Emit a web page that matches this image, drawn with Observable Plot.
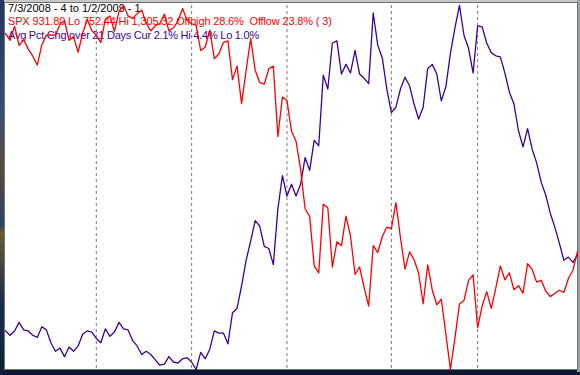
<!DOCTYPE html>
<html>
<head>
<meta charset="utf-8">
<script src="https://cdn.jsdelivr.net/npm/d3@7"></script>
<script src="https://cdn.jsdelivr.net/npm/@observablehq/plot@0.6"></script>
<style>
  html, body { margin: 0; padding: 0; background: #0c1834; }
  #wrap { position: relative; width: 580px; height: 375px; overflow: hidden; background: #0c1834; }
  #desk { position: absolute; left: 0; top: 0; width: 4px; height: 375px;
          background: linear-gradient(#23365c, #3a4f72 30%, #5b4a3a 45%, #2c4166 60%, #6a5a30 62%, #1d2c4c 80%, #10203c); }
  #topbar { position: absolute; left: 4px; top: 0; width: 576px; height: 2px; background: #c8c8c8; }
  #box { position: absolute; left: 4px; top: 2px; width: 572px; height: 366px; background: #fff;
         border: 1px solid #707070; }
  #rightbar { position: absolute; left: 577px; top: 0; width: 3px; height: 372px; background: #9aa0a8; }
  .lbl { position: absolute; left: 8px; font-family: "Liberation Sans", Arial, sans-serif; font-size: 11px;
         line-height: 11px; white-space: pre; }
  svg.layer { position: absolute; left: 0; top: 0; }
</style>
</head>
<body>
<div id="wrap">
  <div id="desk"></div>
  <div id="topbar"></div>
  <div id="rightbar"></div>
  <div id="box"></div>
</div>
<script>
// Trading days shown (7/3/2008 .. 1/2/2009)
const dates = [
 "7/3/2008","7/7/2008","7/8/2008","7/9/2008","7/10/2008","7/11/2008","7/14/2008","7/15/2008","7/16/2008","7/17/2008",
 "7/18/2008","7/21/2008","7/22/2008","7/23/2008","7/24/2008","7/25/2008","7/28/2008","7/29/2008","7/30/2008","7/31/2008",
 "8/1/2008","8/4/2008","8/5/2008","8/6/2008","8/7/2008","8/8/2008","8/11/2008","8/12/2008","8/13/2008","8/14/2008",
 "8/15/2008","8/18/2008","8/19/2008","8/20/2008","8/21/2008","8/22/2008","8/25/2008","8/26/2008","8/27/2008","8/28/2008","8/29/2008",
 "9/2/2008","9/3/2008","9/4/2008","9/5/2008","9/8/2008","9/9/2008","9/10/2008","9/11/2008","9/12/2008","9/15/2008",
 "9/16/2008","9/17/2008","9/18/2008","9/19/2008","9/22/2008","9/23/2008","9/24/2008","9/25/2008","9/26/2008","9/29/2008","9/30/2008",
 "10/1/2008","10/2/2008","10/3/2008","10/6/2008","10/7/2008","10/8/2008","10/9/2008","10/10/2008","10/13/2008","10/14/2008",
 "10/15/2008","10/16/2008","10/17/2008","10/20/2008","10/21/2008","10/22/2008","10/23/2008","10/24/2008","10/27/2008","10/28/2008",
 "10/29/2008","10/30/2008","10/31/2008",
 "11/3/2008","11/4/2008","11/5/2008","11/6/2008","11/7/2008","11/10/2008","11/11/2008","11/12/2008","11/13/2008","11/14/2008",
 "11/17/2008","11/18/2008","11/19/2008","11/20/2008","11/21/2008","11/24/2008","11/25/2008","11/26/2008","11/28/2008",
 "12/1/2008","12/2/2008","12/3/2008","12/4/2008","12/5/2008","12/8/2008","12/9/2008","12/10/2008","12/11/2008","12/12/2008",
 "12/15/2008","12/16/2008","12/17/2008","12/18/2008","12/19/2008","12/22/2008","12/23/2008","12/24/2008","12/26/2008","12/29/2008",
 "12/30/2008","12/31/2008","1/2/2009"
];

// SPX close (red)
const spx = [
 1262.90,1252.31,1273.70,1244.69,1253.39,1239.49,1228.30,1214.91,1245.36,1260.32,
 1260.68,1260.00,1277.00,1282.19,1252.54,1257.76,1234.37,1263.20,1284.26,1267.38,
 1260.31,1249.01,1284.88,1289.19,1266.07,1296.32,1305.32,1289.59,1285.83,1292.93,
 1298.20,1278.60,1266.69,1274.54,1277.72,1292.20,1266.84,1271.51,1281.66,1300.68,1282.83,
 1277.58,1274.98,1236.83,1242.31,1267.79,1224.51,1232.04,1249.05,1251.70,1192.70,
 1213.60,1156.39,1206.51,1255.08,1207.09,1188.22,1185.87,1209.18,1213.27,1106.42,1166.36,
 1161.06,1114.28,1099.23,1056.89,996.23,984.94,909.92,899.22,1003.35,998.01,
 907.84,946.43,940.55,985.40,955.05,896.78,908.11,876.77,848.92,940.51,
 930.09,954.09,968.75,
 966.30,1005.75,952.77,904.88,930.99,919.21,898.95,852.30,911.29,873.29,
 850.75,859.12,806.58,752.44,800.03,851.81,857.39,887.68,896.24,
 816.21,848.81,870.74,845.22,876.07,909.70,888.67,899.24,873.59,879.73,
 868.57,913.18,904.42,885.28,887.88,871.63,863.16,868.15,872.80,869.42,
 890.64,903.25,931.80
];

// Avg Pct Chg over 21 Days, % (purple)
const avgPct = [
 1.36,1.32,1.36,1.44,1.37,1.36,1.32,1.30,1.40,1.37,
 1.25,1.17,1.20,1.12,1.21,1.17,1.22,1.33,1.36,1.35,
 1.29,1.25,1.38,1.31,1.35,1.44,1.38,1.37,1.27,1.22,
 1.14,1.17,1.14,1.09,1.04,1.05,1.12,1.07,1.06,1.10,1.11,
 1.07,1.00,1.16,1.10,1.19,1.36,1.34,1.34,1.24,1.53,
 1.57,1.78,2.02,2.20,2.39,2.34,2.15,2.13,1.98,2.50,2.81,
 2.62,2.73,2.62,2.73,2.98,2.86,3.14,3.09,3.75,3.62,
 4.05,4.07,3.76,3.85,3.77,3.98,3.76,3.72,3.67,4.33,
 4.03,3.91,3.62,
 3.40,3.45,3.62,3.73,3.65,3.48,3.34,3.45,3.81,3.85,
 3.76,3.51,3.64,3.95,4.19,4.40,4.12,4.00,3.77,
 4.21,4.20,4.05,3.96,3.93,3.92,3.77,3.59,3.48,3.23,
 3.08,3.25,3.06,2.93,2.75,2.63,2.46,2.33,2.18,2.02,
 2.05,2.00,2.07
];

// First trading day of each month (dashed dividers)
const monthStarts = ["8/1/2008","9/2/2008","10/1/2008","11/3/2008","12/1/2008"];

const titleLines = [
  {text: "7/3/2008 - 4 to 1/2/2009 - 1", color: "#000000"},
  {text: "SPX 931.80 Lo 752.44 Hi 1,305.32 Offhigh 28.6%  Offlow 23.8% ( 3)", color: "#ff0000"},
  {text: "Avg Pct Chg over 21 Days Cur 2.1% Hi 4.4% Lo 1.0%", color: "#3c0096"}
];

const rows = dates.map((d, i) => ({i, date: d, spx: spx[i], avg: avgPct[i]}));
const monthIdx = monthStarts.map(d => dates.indexOf(d));

const W = 580, H = 375;
const common = {
  width: W, height: H,
  marginLeft: 5, marginRight: 3, marginTop: 5, marginBottom: 6,
  x: {domain: [0, dates.length - 1], axis: null},
  style: {background: "transparent", overflow: "visible"}
};

const wrap = document.getElementById("wrap");

// labels (drawn under the lines)
const tops = [2.6, 16.2, 29.6];
const spacing = [0, -0.15, -0.24];
titleLines.forEach((l, k) => {
  const el = document.createElement("div");
  el.className = "lbl";
  el.style.top = tops[k] + "px";
  el.style.color = l.color;
  el.style.letterSpacing = spacing[k] + "px";
  el.textContent = l.text;
  wrap.appendChild(el);
});

const purple = Plot.plot({
  ...common,
  y: {domain: [d3.min(avgPct), d3.max(avgPct)], axis: null},
  marks: [
    Plot.ruleX(monthIdx, {stroke: "#7a7a7a", strokeWidth: 1, strokeDasharray: "3,3"}),
    Plot.line(rows, {x: "i", y: "avg", stroke: "#3c0096", strokeWidth: 1.3})
  ]
});
purple.classList.add("layer");
wrap.appendChild(purple);

const red = Plot.plot({
  ...common,
  y: {domain: [d3.min(spx), d3.max(spx)], axis: null},
  marks: [
    Plot.line(rows, {x: "i", y: "spx", stroke: "#ff0000", strokeWidth: 1.3})
  ]
});
red.classList.add("layer");
wrap.appendChild(red);
</script>
</body>
</html>
